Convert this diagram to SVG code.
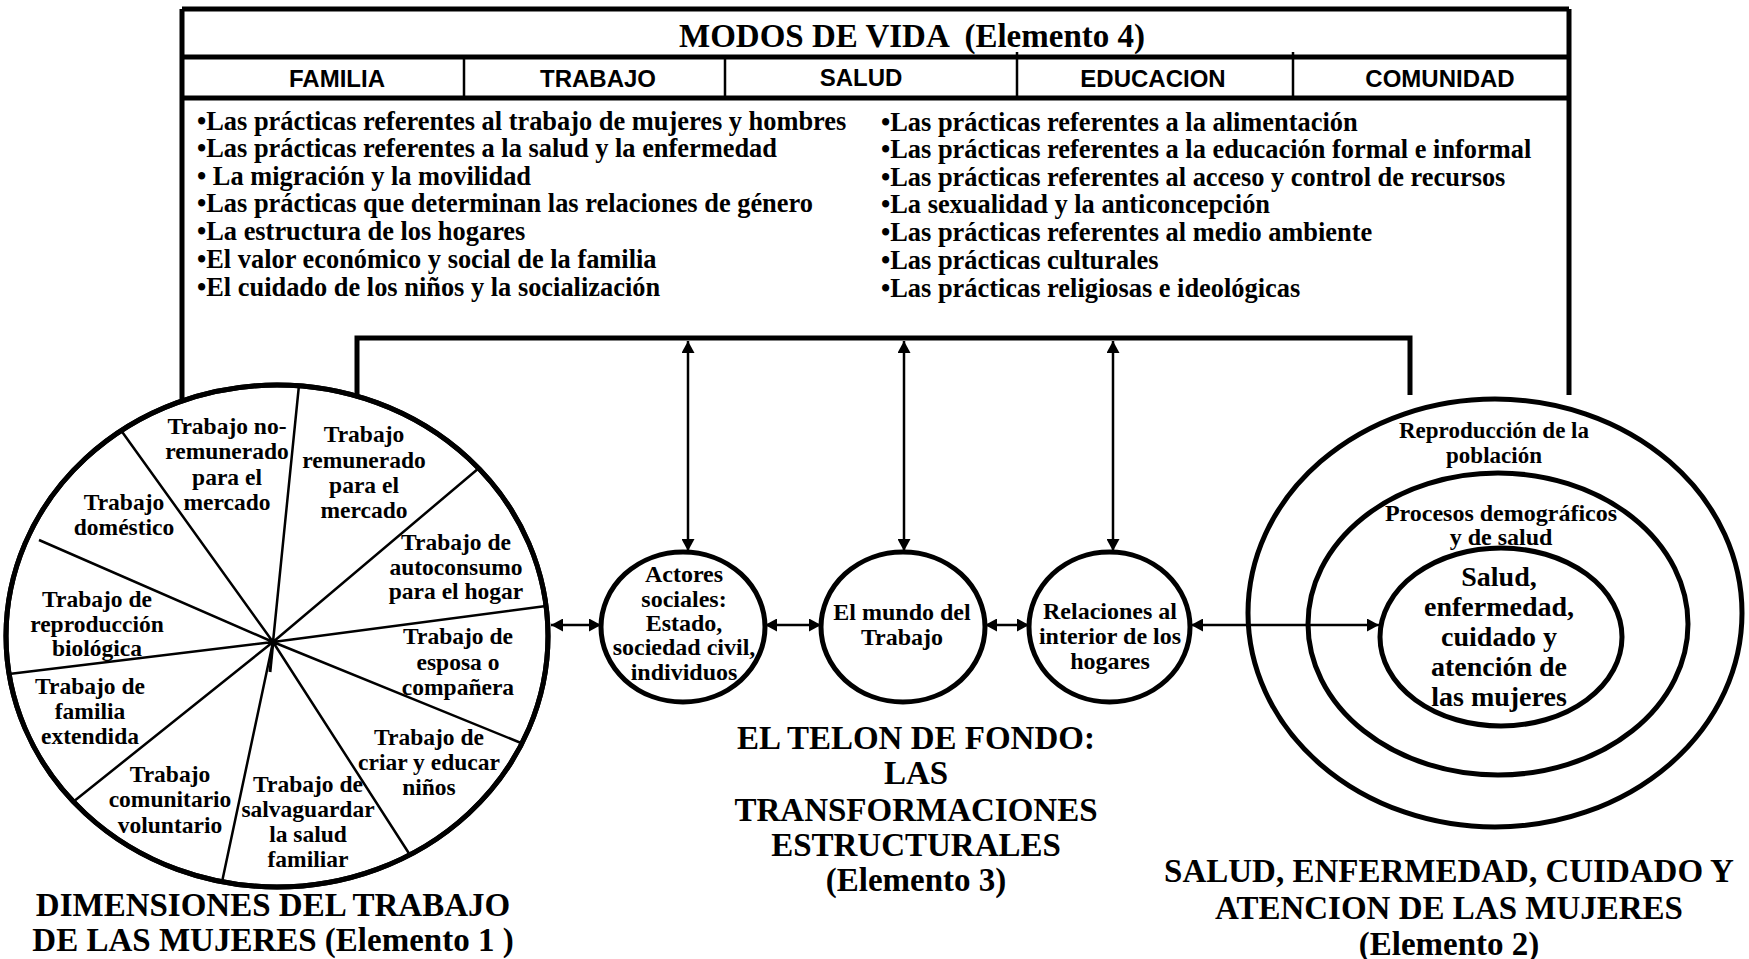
<svg xmlns="http://www.w3.org/2000/svg" width="1749" height="959" viewBox="0 0 1749 959">
<style>
.s{font-family:"Liberation Serif","Times New Roman",serif;font-weight:bold;fill:#000}
.h{font-family:"Liberation Sans",Arial,sans-serif;font-weight:bold;font-size:24px;fill:#000;text-anchor:middle}
.b{font-size:26.4px}
.c{font-size:23.5px;text-anchor:middle}
.m{font-size:24px;text-anchor:middle}
.big{font-size:33px;text-anchor:middle}
.thick{stroke:#000;stroke-width:5;fill:none}
.thin{stroke:#000;stroke-width:2.5;fill:none}
.node{stroke:#000;stroke-width:5;fill:#fff}
.arr{stroke:#000;stroke-width:2.5;fill:none;marker-start:url(#ah);marker-end:url(#ah)}
</style>
<defs>
<marker id="ah" viewBox="0 0 12 13" refX="12" refY="6.5" markerWidth="12" markerHeight="13" orient="auto-start-reverse" markerUnits="userSpaceOnUse">
<path d="M0,0 L12,6.5 L0,13 z" fill="#000"/>
</marker>
</defs>
<rect width="1749" height="959" fill="#fff"/>

<g id="modos-de-vida">
<path class="thick" d="M182,9 H1569 M182,57 H1569 M182,98 H1569"/>
<path class="thin" stroke-width="3.5" d="M464,57 V98 M725,57 V98 M1017,52 V98 M1293,52 V98"/>
<text class="s" x="912" y="47" font-size="33" text-anchor="middle" xml:space="preserve">MODOS DE VIDA  (Elemento 4)</text>
<text class="h" x="337" y="87">FAMILIA</text>
<text class="h" x="598" y="87">TRABAJO</text>
<text class="h" x="861" y="86">SALUD</text>
<text class="h" x="1153" y="87">EDUCACION</text>
<text class="h" x="1440" y="87">COMUNIDAD</text>
<g class="s b">
<text x="197" y="130">•Las prácticas referentes al trabajo de mujeres y hombres</text>
<text x="197" y="157">•Las prácticas referentes a la salud y la enfermedad</text>
<text x="197" y="185">• La migración y la movilidad</text>
<text x="197" y="212">•Las prácticas que determinan las relaciones de género</text>
<text x="197" y="240">•La estructura de los hogares</text>
<text x="197" y="268">•El valor económico y social de la familia</text>
<text x="197" y="296">•El cuidado de los niños y la socialización</text>
<text x="881" y="131">•Las prácticas referentes a la alimentación</text>
<text x="881" y="158">•Las prácticas referentes a la educación formal e informal</text>
<text x="881" y="186">•Las prácticas referentes al acceso y control de recursos</text>
<text x="881" y="213">•La sexualidad y la anticoncepción</text>
<text x="881" y="241">•Las prácticas referentes al medio ambiente</text>
<text x="881" y="269">•Las prácticas culturales</text>
<text x="881" y="297">•Las prácticas religiosas e ideológicas</text>
</g>
</g>

<g id="dimensiones-trabajo">
<ellipse class="node" cx="277" cy="636" rx="271" ry="251"/>
<path class="thin" d="M273,642 L299,385 M273,642 L121.5,431 M273,642 L39,540 M273,642 L9,674 M273,642 L73,802 M273,642 L222,882 M273,642 L410,855 M273,642 L521,743 M273,642 L546,606 M273,642 L479,468"/>
<path stroke="#000" stroke-width="3" d="M273,642 L270,672"/>
<ellipse class="thick" cx="277" cy="636" rx="271" ry="251"/>
<g class="s c">
<text x="227" y="434">Trabajo no-</text><text x="227" y="459">remunerado</text><text x="227" y="485">para el</text><text x="227" y="510">mercado</text>
<text x="364" y="442">Trabajo</text><text x="364" y="468">remunerado</text><text x="364" y="493">para el</text><text x="364" y="518">mercado</text>
<text x="124" y="510">Trabajo</text><text x="124" y="535">doméstico</text>
<text x="456" y="550">Trabajo de</text><text x="456" y="575">autoconsumo</text><text x="456" y="599">para el hogar</text>
<text x="97" y="607">Trabajo de</text><text x="97" y="632">reproducción</text><text x="97" y="656">biológica</text>
<text x="458" y="644">Trabajo de</text><text x="458" y="670">esposa o</text><text x="458" y="695">compañera</text>
<text x="90" y="694">Trabajo de</text><text x="90" y="719">familia</text><text x="90" y="744">extendida</text>
<text x="170" y="782">Trabajo</text><text x="170" y="807">comunitario</text><text x="170" y="833">voluntario</text>
<text x="308" y="792">Trabajo de</text><text x="308" y="817">salvaguardar</text><text x="308" y="842">la salud</text><text x="308" y="867">familiar</text>
<text x="429" y="745">Trabajo de</text><text x="429" y="770">criar y educar</text><text x="429" y="795">niños</text>
</g>
<text class="s big" x="273" y="916">DIMENSIONES DEL TRABAJO</text>
<text class="s big" x="273" y="951">DE LAS MUJERES (Elemento 1 )</text>
</g>

<g id="actores-sociales">
<ellipse class="node" cx="683" cy="627" rx="82" ry="75"/>
<g class="s m">
<text x="684" y="582">Actores</text><text x="684" y="607">sociales:</text><text x="684" y="631">Estado,</text><text x="684" y="655">sociedad civil,</text><text x="684" y="680">individuos</text>
</g>
</g>

<g id="mundo-trabajo">
<ellipse class="node" cx="903" cy="627" rx="82" ry="75"/>
<g class="s m" font-size="25">
<text x="902" y="620">El mundo del</text><text x="902" y="645">Trabajo</text>
</g>
</g>

<g id="relaciones-hogares">
<ellipse class="node" cx="1109.5" cy="627" rx="80.5" ry="75"/>
<g class="s m">
<text x="1110" y="619">Relaciones al</text><text x="1110" y="644">interior de los</text><text x="1110" y="669">hogares</text>
</g>
</g>

<g id="telon-de-fondo">
<text class="s big" x="916" y="749">EL TELON DE FONDO:</text>
<text class="s big" x="916" y="784">LAS</text>
<text class="s big" x="916" y="821">TRANSFORMACIONES</text>
<text class="s big" x="916" y="856">ESTRUCTURALES</text>
<text class="s big" x="916" y="891">(Elemento 3)</text>
</g>

<g id="salud-mujeres">
<ellipse class="node" cx="1495" cy="613" rx="247" ry="214"/>
<ellipse class="thick" cx="1498" cy="624" rx="190" ry="151"/>
<ellipse class="thick" cx="1501" cy="637" rx="121" ry="89"/>
<g class="s" text-anchor="middle">
<text x="1494" y="438" font-size="23">Reproducción de la</text><text x="1494" y="463" font-size="23">población</text>
<text x="1501" y="521" font-size="24">Procesos demográficos</text><text x="1501" y="545" font-size="24">y de salud</text>
<text x="1499" y="586" font-size="28">Salud,</text><text x="1499" y="616" font-size="28">enfermedad,</text><text x="1499" y="646" font-size="28">cuidado y</text><text x="1499" y="676" font-size="28">atención de</text><text x="1499" y="706" font-size="28">las mujeres</text>
</g>
<text class="s big" x="1449" y="882">SALUD, ENFERMEDAD, CUIDADO Y</text>
<text class="s big" x="1449" y="919">ATENCION DE LAS MUJERES</text>
<text class="s big" x="1449" y="955">(Elemento 2)</text>
</g>

<g id="connectors">
<path class="thick" d="M182,9 V401 M1569,9 V395"/>
<path class="thick" d="M357,397 V338 H1410 V395"/>
<line class="arr" x1="688" y1="341" x2="688" y2="551"/>
<line class="arr" x1="904" y1="341" x2="904" y2="551"/>
<line class="arr" x1="1113" y1="341" x2="1113" y2="551"/>
<line class="arr" x1="551" y1="625" x2="601" y2="625"/>
<line class="arr" x1="765" y1="625" x2="821" y2="625"/>
<line class="arr" x1="985" y1="625" x2="1029" y2="625"/>
<line class="arr" x1="1191" y1="625" x2="1379" y2="625"/>
</g>
</svg>
